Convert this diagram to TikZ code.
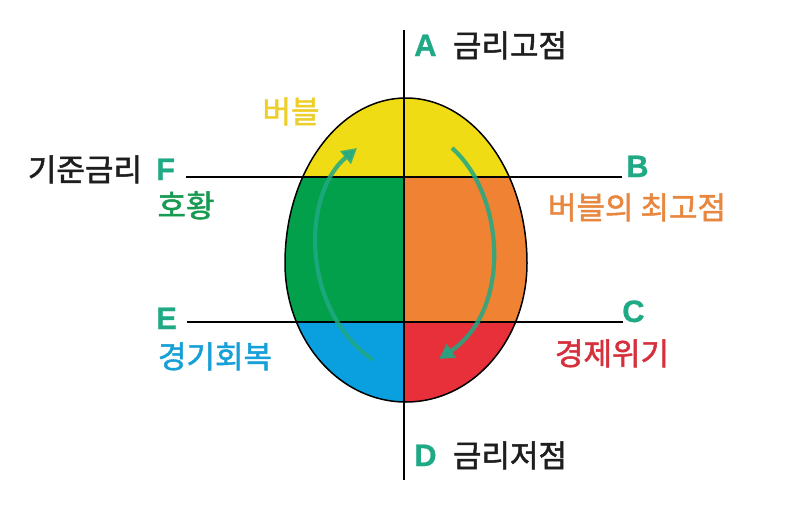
\documentclass[tikz,border=0pt]{standalone}
\usepackage{fontspec}
\newfontfamily\kr[FakeBold=1.6]{Noto Sans CJK KR}
\newfontfamily\lat[FakeBold=0.6]{Liberation Sans}
\usetikzlibrary{arrows.meta}
\definecolor{eggyellow}{HTML}{F0DC14}
\definecolor{egggreen}{HTML}{03A04B}
\definecolor{eggorange}{HTML}{F08234}
\definecolor{eggblue}{HTML}{0AA0E0}
\definecolor{eggred}{HTML}{E8303A}
\definecolor{teal}{HTML}{1FA984}
\definecolor{txtyellow}{HTML}{EECF2A}
\definecolor{txtorange}{HTML}{E88840}
\definecolor{txtred}{HTML}{D6303C}
\definecolor{txtgreen}{HTML}{179A52}
\definecolor{txtblue}{HTML}{17A0D8}
\definecolor{txtblack}{HTML}{1E1E1E}
\tikzset{
  letter/.style={font=\lat\bfseries\fontsize{31}{33}\selectfont, text=teal, inner sep=0pt, anchor=base west},
  ktext/.style={font=\kr\fontsize{31}{33}\selectfont, inner sep=0pt, anchor=base},
  axis/.style={line width=1.5pt, black},
  cyc/.style={line width=4.2pt, teal, opacity=0.85, -{Triangle[length=15pt,width=16pt]}}
}
\begin{document}
\begin{tikzpicture}[x=1pt,y=-1pt]
\useasboundingbox (0,0) rectangle (790,509);
\fill[white] (0,0) rectangle (790,509);
% egg fill
\begin{scope}
\clip (285,263) arc[start angle=180,end angle=0,x radius=121pt,y radius=165pt]
  arc[start angle=0,end angle=-180,x radius=121pt,y radius=139pt] -- cycle;
\fill[eggyellow] (280,90) rectangle (535,177);
\fill[egggreen] (280,177) rectangle (404,322);
\fill[eggorange] (404,177) rectangle (535,322);
\fill[eggblue] (280,322) rectangle (404,410);
\fill[eggred] (404,322) rectangle (535,410);
\end{scope}
\draw[line width=1.5pt] (285,263) arc[start angle=180,end angle=0,x radius=121pt,y radius=165pt]
  arc[start angle=0,end angle=-180,x radius=121pt,y radius=139pt] -- cycle;
% axes
\coordinate (top) at (404,30);
\coordinate (bot) at (404,480);
\coordinate (fl) at (186,177);
\coordinate (fr) at (622,177);
\coordinate (el) at (187,322);
\coordinate (er) at (623,322);
\draw[axis] (top) -- (bot);
\draw[axis] (fl) -- (fr);
\draw[axis] (el) -- (er);
% arrows
\coordinate (la) at (373,360);
\coordinate (lb) at (357,148);
\coordinate (ra) at (452,148);
\coordinate (rb) at (439,359);
\draw[cyc] (la) .. controls (301,310) and (301,195) .. (lb);
\draw[cyc] (ra) .. controls (505,195) and (512,310) .. (rb);
% letters
\node[letter] (A) at (414,56) {A};
\node[letter] (B) at (626,177) {B};
\node[letter] (C) at (622,322) {C};
\node[letter] (D) at (414,466) {D};
\node[letter] (E) at (156,329) {E};
\node[letter] (F) at (156,180) {F};
% texts
\node[ktext, text=txtblack] (Atxt) at (510,57) {금리고점};
\node[ktext, text=txtblack] (Dtxt) at (510,467) {금리저점};
\node[ktext, text=txtblack] (ref) at (85,181) {기준금리};
\node[ktext, text=txtyellow] (bub) at (291,123) {버블};
\node[ktext, text=txtorange] (peak) at (637,219) {버블의 최고점};
\node[ktext, text=txtred] (crisis) at (612,365) {경제위기};
\node[ktext, text=txtgreen] (boom) at (186,217) {호황};
\node[ktext, text=txtblue] (recov) at (215,368) {경기회복};
\end{tikzpicture}
\end{document}
